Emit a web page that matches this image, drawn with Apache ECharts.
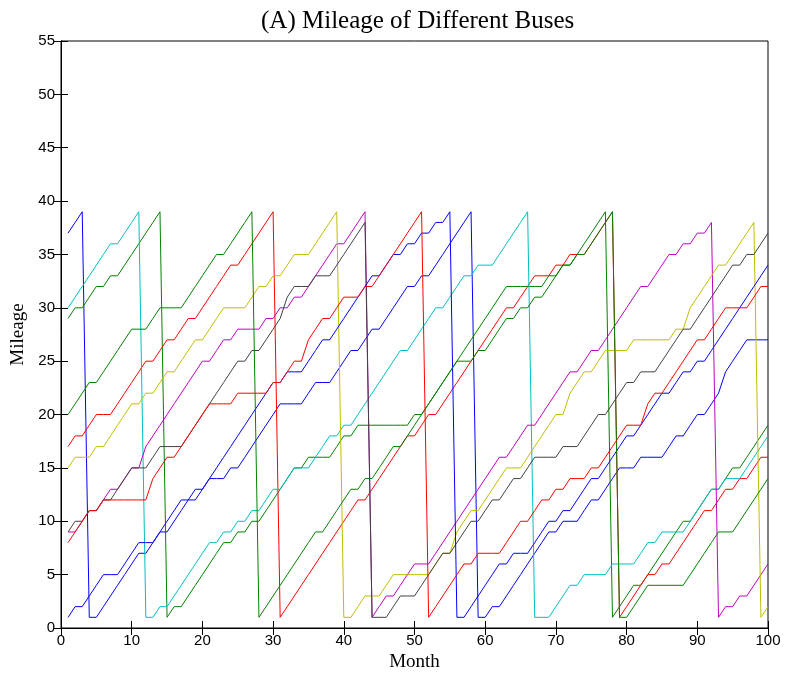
<!DOCTYPE html>
<html>
<head>
<meta charset="utf-8">
<script src="https://cdn.jsdelivr.net/npm/echarts@6/dist/echarts.min.js"></script>
<style>
  html, body { margin: 0; padding: 0; background: #fff; }
  #chart { width: 786px; height: 679px; }
</style>
</head>
<body>
<div id="chart"></div>
<script>
// months on the x axis
var months = [1,2,3,4,5,6,7,8,9,10,11,12,13,14,15,16,17,18,19,20,
  21,22,23,24,25,26,27,28,29,30,31,32,33,34,35,36,37,38,39,40,
  41,42,43,44,45,46,47,48,49,50,51,52,53,54,55,56,57,58,59,60,
  61,62,63,64,65,66,67,68,69,70,71,72,73,74,75,76,77,78,79,80,
  81,82,83,84,85,86,87,88,89,90,91,92,93,94,95,96,97,98,99,100];

// mileage of each bus, read month by month
var bus1 = [37,38,39,1,1,2,3,4,5,6,7,7,8,9,9,10,11,12,12,13,
  14,14,14,15,15,16,17,18,19,20,21,21,21,21,22,23,23,23,24,25,
  26,26,27,28,28,29,30,31,32,32,33,33,34,35,36,37,38,39,1,1,
  2,2,3,4,5,6,7,8,9,9,10,10,10,11,12,12,13,14,15,15,
  15,16,16,16,16,17,18,18,19,20,20,21,22,24,25,26,27,27,27,27];
var bus2 = [29,30,30,31,32,32,33,33,34,35,36,37,38,39,1,2,2,3,4,5,
  6,7,8,8,9,9,10,10,11,12,13,14,15,15,16,16,16,16,17,18,
  18,19,19,19,19,19,19,19,19,20,20,21,22,23,24,25,26,27,28,29,
  30,31,32,32,32,32,32,32,33,33,34,34,35,36,37,38,39,1,2,3,
  4,4,5,6,7,8,9,10,10,11,12,13,13,14,15,15,16,17,18,19];
var bus3 = [17,18,18,19,20,20,20,21,22,23,24,25,25,26,27,27,28,29,29,30,
  31,32,33,34,34,35,36,37,38,39,1,2,3,4,5,6,7,8,9,10,
  11,12,12,13,14,15,16,17,18,18,19,20,20,21,22,23,24,25,26,27,
  28,29,30,30,31,32,33,33,33,34,34,35,35,35,36,37,38,39,1,2,
  3,4,5,5,6,6,7,8,9,10,11,11,12,13,13,14,14,15,16,16];
var bus4 = [30,31,32,33,34,35,36,36,37,38,39,1,1,2,2,3,4,5,6,7,
  8,8,9,9,10,10,11,11,12,13,13,14,15,15,15,16,17,18,18,19,
  19,20,21,22,23,24,25,26,26,27,28,29,30,30,31,32,33,33,34,34,
  34,35,36,37,38,39,1,1,1,2,3,4,4,5,5,5,5,6,6,6,
  6,7,8,8,9,9,9,9,10,11,12,13,13,14,14,14,15,16,17,18];
var bus5 = [9,9,10,11,11,12,13,13,14,15,15,17,18,19,20,21,22,23,24,25,
  25,26,27,27,28,28,28,28,29,29,30,30,31,31,32,33,34,35,36,36,
  37,38,39,1,2,3,3,4,5,6,6,6,7,8,9,10,11,12,13,14,
  15,16,16,17,18,19,19,20,21,22,23,24,24,25,26,26,27,28,29,30,
  31,32,32,33,34,35,35,36,36,37,37,38,1,2,2,3,3,4,5,6];
var bus6 = [15,16,16,16,17,17,18,19,20,21,21,22,22,23,24,24,25,26,27,27,
  28,29,30,30,30,30,31,32,32,33,33,34,35,35,35,36,37,38,39,1,
  1,2,3,3,3,4,5,5,5,5,5,5,6,7,7,9,10,11,11,12,
  13,14,15,15,15,16,17,18,19,20,20,22,23,24,24,25,26,26,26,26,
  27,27,27,27,27,27,28,28,30,31,32,33,34,34,35,36,37,38,1,2];
var bus7 = [9,10,10,11,11,12,12,13,14,15,15,15,16,17,17,17,17,18,19,20,
  21,22,23,24,25,25,26,26,27,28,29,31,32,32,32,33,33,33,34,35,
  36,37,38,1,1,1,2,3,3,3,4,5,6,7,7,8,9,10,10,11,
  12,12,13,14,14,15,16,16,16,16,17,17,17,18,19,20,20,21,22,23,
  23,24,24,24,25,26,27,28,28,29,30,31,32,33,34,34,35,35,36,37];
var bus8 = [1,2,2,3,4,5,5,5,6,7,8,8,8,9,10,11,12,12,13,13,
  14,15,16,17,18,19,20,21,22,23,23,24,24,24,25,26,27,27,28,29,
  30,31,32,33,33,34,35,35,36,36,37,37,38,38,39,1,1,2,3,4,
  5,6,6,7,7,7,8,9,10,10,11,11,12,13,14,14,15,16,17,18,
  18,19,20,21,22,22,23,24,24,25,25,26,27,28,29,30,31,32,33,34];
var bus9 = [20,21,22,23,23,24,25,26,27,28,28,28,29,30,30,30,30,31,32,33,
  34,35,35,36,37,38,39,1,2,3,4,5,6,7,8,9,9,10,11,12,
  13,13,14,14,15,16,17,17,18,19,20,21,22,23,24,25,25,25,26,26,
  27,28,29,29,30,30,31,31,32,33,34,34,35,35,36,37,38,39,1,1,
  2,3,4,4,4,4,4,4,5,6,7,8,9,9,9,10,11,12,13,14];
var bus10 = [8,9,10,11,11,12,12,12,12,12,12,12,14,15,16,16,17,18,19,20,
  21,21,21,21,22,22,22,22,22,23,23,24,25,25,27,28,29,29,30,31,
  31,31,32,32,33,34,35,36,37,38,39,1,2,3,4,5,6,6,7,7,
  7,7,8,9,10,10,11,12,12,13,13,14,14,14,15,15,16,17,18,19,
  19,19,21,22,22,23,24,25,26,27,27,28,29,30,30,30,30,31,32,32];

var buses = [bus1, bus2, bus3, bus4, bus5, bus6, bus7, bus8, bus9, bus10];
var lineColors = ["#0000ff", "#008000", "#ff0000", "#00bfbf", "#bf00bf",
  "#bfbf00", "#404040", "#0000ff", "#008000", "#ff0000"];

var chart = echarts.init(document.getElementById("chart"));

var series = buses.map(function (vals, k) {
  return {
    type: "line",
    data: vals.map(function (v, i) { return [months[i], v]; }),
    showSymbol: false,
    symbol: "none",
    lineStyle: { width: 1, color: lineColors[k] },
    itemStyle: { color: lineColors[k] },
    silent: true,
    z: 2
  };
});

var tickFont = { color: "#000", fontSize: 15, fontFamily: "Liberation Sans" };
var black = { color: "#000", width: 1 };

var option = {
  animation: false,
  title: {
    text: "(A) Mileage of Different Buses",
    left: 256,
    top: 4,
    textStyle: { fontFamily: "Liberation Serif", fontSize: 25, fontWeight: "normal", color: "#000" }
  },
  grid: { left: 61, right: 18, top: 41, bottom: 51, show: true, borderColor: "#000", borderWidth: 1 },
  xAxis: [
    {
      type: "value", min: 0, max: 100, interval: 10, position: "bottom",
      name: "Month", nameLocation: "middle", nameGap: 24,
      nameTextStyle: { fontFamily: "Liberation Serif", fontSize: 19, color: "#000" },
      axisLine: { show: true, lineStyle: black },
      axisTick: { show: true, inside: true, length: 7, lineStyle: black },
      axisLabel: Object.assign({ margin: 5 }, tickFont),
      splitLine: { show: false }
    },
    {
      type: "value", min: 0, max: 100, interval: 10, position: "top",
      axisLine: { show: true, lineStyle: black },
      axisTick: { show: true, inside: true, length: 7, lineStyle: black },
      axisLabel: { show: false },
      splitLine: { show: false }
    }
  ],
  yAxis: [
    {
      type: "value", min: 0, max: 55, interval: 5, position: "left",
      name: "Mileage", nameLocation: "middle", nameGap: 31, nameRotate: 90,
      nameTextStyle: { fontFamily: "Liberation Serif", fontSize: 19, color: "#000" },
      axisLine: { show: true, lineStyle: black },
      axisTick: { show: true, inside: true, length: 7, lineStyle: black },
      axisLabel: Object.assign({ margin: 6 }, tickFont),
      splitLine: { show: false }
    },
    {
      type: "value", min: 0, max: 55, interval: 5, position: "right",
      axisLine: { show: true, lineStyle: black },
      axisTick: { show: true, inside: true, length: 7, lineStyle: black },
      axisLabel: { show: false },
      splitLine: { show: false }
    }
  ],
  series: series
};

chart.setOption(option);
</script>
</body>
</html>
